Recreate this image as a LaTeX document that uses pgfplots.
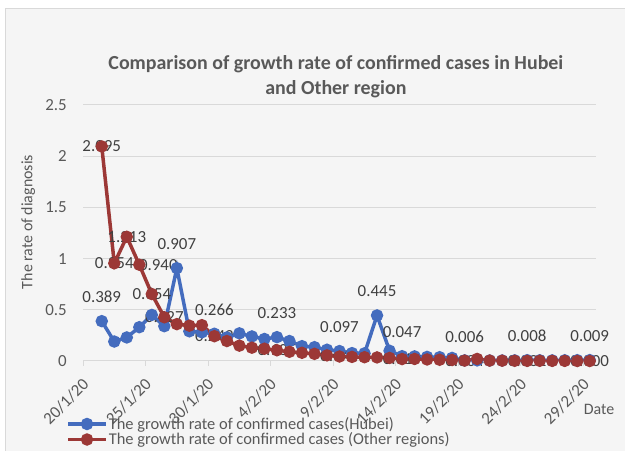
\documentclass[border=0pt]{standalone}
\usepackage{fontspec}
\setmainfont{Carlito}
\usepackage{pgfplots}
\usepackage{pgfplotstable}
\pgfplotsset{compat=1.18}

\definecolor{hubei}{RGB}{68,108,190}
\definecolor{other}{RGB}{156,56,54}
\definecolor{txt}{RGB}{89,89,89}
\definecolor{lbl}{RGB}{64,64,64}
\definecolor{gridc}{RGB}{217,217,217}
\definecolor{bg}{RGB}{245,245,245}

% day index: 0 = 20/1/20 ... 40 = 29/2/20
\pgfplotstableread{
k  hubei  other
1  0.389  2.095
2  0.190  0.954
3  0.230  1.213
4  0.330  0.940
5  0.450  0.654
6  0.340  0.427
7  0.907  0.360
8  0.290  0.345
9  0.280  0.350
10 0.266  0.242
11 0.230  0.195
12 0.270  0.150
13 0.240  0.130
14 0.215  0.120
15 0.233  0.105
16 0.195  0.090
17 0.145  0.080
18 0.135  0.070
19 0.110  0.055
20 0.097  0.044
21 0.077  0.040
22 0.075  0.037
23 0.445  0.035
24 0.100  0.030
25 0.047  0.019
26 0.045  0.020
27 0.040  0.015
28 0.037  0.012
29 0.030  0.010
30 0.006  0.004
31 0.006  0.020
32 0.005  0.004
33 0.005  0.003
34 0.006  0.002
35 0.008  0.001
36 0.007  0.002
37 0.006  0.001
38 0.007  0.001
39 0.008  0.000
40 0.009  0.000
}\rates

% labels shown above the Hubei series
\pgfplotstableread{
k  y      lab
1  0.389  0.389
7  0.907  0.907
10 0.266  0.266
15 0.233  0.233
20 0.097  0.097
23 0.445  0.445
25 0.047  0.047
30 0.006  0.006
35 0.008  0.008
40 0.009  0.009
}\hubeilabels

% labels centred on the other-regions series
\pgfplotstableread{
k  y      lab
1  2.095  2.095
2  0.954  0.954
3  1.213  1.213
5  0.654  0.654
6  0.427  0.427
10 0.242  0.242
15 0.105  0.105
20 0.044  0.044
25 0.019  0.019
30 0.004  0.004
35 0.001  0.001
40 0.000  0.000
}\otherlabels

\begin{document}
\begin{tikzpicture}[x=1bp,y=1bp]
\useasboundingbox (0,0) rectangle (625,451);
\fill[white] (0,0) rectangle (625,451);
\filldraw[fill=bg, draw=gridc, line width=1bp] (5,-3) rectangle (630,442);
\begin{axis}[
    at={(83bp,90bp)}, anchor=south west,
    scale only axis, width=513bp, height=256bp,
    xmin=-0.5, xmax=40.5, ymin=0, ymax=2.5,
    axis x line*=bottom, axis y line*=left,
    y axis line style={draw=none},
    x axis line style={draw=gridc, line width=1bp},
    tick pos=left,
    xtick={0,5,...,40},
    xticklabels={20/1/20,25/1/20,30/1/20,4/2/20,9/2/20,14/2/20,19/2/20,24/2/20,29/2/20},
    minor xtick={-0.5,4.5,...,39.5},
    xtick align=outside,
    major tick length=0pt, minor tick length=5bp,
    minor tick style={draw=gridc, line width=1bp},
    ytick={0,0.5,...,2.5},
    ymajorgrids, grid style={draw=gridc, line width=1bp},
    /pgf/number format/assume math mode=true,
    ticklabel style={font=\fontsize{17}{20}\selectfont, text=txt},
    yticklabel style={anchor=east, inner sep=0pt, xshift=-16bp},
    xticklabel style={inner sep=0pt, xshift=-8bp, yshift=-16bp, rotate=45, anchor=north east},
    title={Comparison of growth rate of confirmed cases in Hubei\\and Other region},
    title style={at={(axis description cs:0.493,1.087)}, anchor=center, align=center,
        font=\fontsize{20}{25}\selectfont\bfseries, text=txt},
    xlabel={Date},
    xlabel style={at={(axis description cs:1.006,-0.1875)}, anchor=center,
        font=\fontsize{16}{19}\selectfont, text=txt},
    ylabel={The rate of diagnosis},
    ylabel style={at={(axis description cs:-0.107,0.543)}, anchor=center, rotate=0,
        font=\fontsize{16}{19}\selectfont, text=txt},
    legend style={at={(axis description cs:-0.033,-0.215)}, anchor=north west,
        draw=none, fill=none, inner sep=0pt, row sep=0pt,
        font=\fontsize{16.5}{17}\selectfont, text=txt,
        nodes={inner sep=1bp}},
    legend cell align=left,
    legend image code/.code={
        \draw[mark repeat=2, mark phase=2, #1] plot coordinates {(0bp,0bp) (19bp,0bp) (38bp,0bp)};
    },
    every node near coord/.append style={font=\fontsize{17}{20}\selectfont, text=lbl},
]

% data labels first, so that the lines lie over them
\addplot[draw=none, mark=none, forget plot, nodes near coords, point meta=explicit symbolic,
    every node near coord/.append style={anchor=center, yshift=24bp}]
    table[x=k, y=y, meta=lab] {\hubeilabels};
\addplot[draw=none, mark=none, forget plot, nodes near coords, point meta=explicit symbolic,
    every node near coord/.append style={anchor=center}]
    table[x=k, y=y, meta=lab] {\otherlabels};
\addplot[draw=none, mark=none, forget plot, nodes near coords, point meta=explicit symbolic,
    every node near coord/.append style={anchor=center, xshift=19bp}]
    coordinates {(4,0.940) [0.940]};

\addplot[hubei, line width=3.5bp, mark=*, mark size=4.4bp, mark options={solid, fill=hubei}]
    table[x=k, y=hubei] {\rates};
\addlegendentry{The growth rate of confirmed cases(Hubei)}
\addplot[other, line width=3.5bp, mark=*, mark size=4.4bp, mark options={solid, fill=other}]
    table[x=k, y=other] {\rates};
\addlegendentry{The growth rate of confirmed cases (Other regions)}
\end{axis}
\end{tikzpicture}
\end{document}
